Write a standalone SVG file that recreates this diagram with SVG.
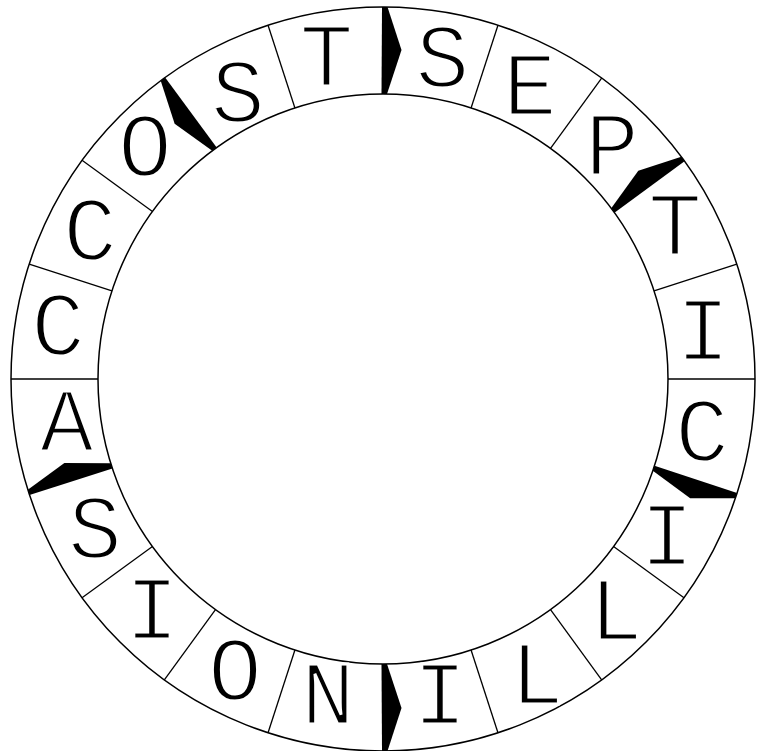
<svg xmlns="http://www.w3.org/2000/svg" width="765" height="751" viewBox="0 0 765 751">
<style>
.ring{fill:none;stroke:#000;stroke-width:1.5}
.div{stroke:#000;stroke-width:1.3}
.wedge{fill:#000;stroke:none}
.lt{font-family:"Liberation Mono","Courier New",monospace;font-size:90px;fill:#000;stroke:#fff;stroke-width:2.8px;text-anchor:middle}
</style>
<defs>
<line id="dv" x1="0" y1="-285" x2="0" y2="-372" class="div"/>
<polygon id="wg" class="wedge" points="-1,-372 4.5,-372 18.5,-329 4,-285 -1.5,-285"/>
</defs>
<rect width="765" height="751" fill="#fff"/>
<g id="rings">
<circle class="ring" cx="383" cy="379" r="372"/>
<circle class="ring" cx="383" cy="379" r="285"/>
</g>
<g id="connectors" transform="translate(383 379)">
<use href="#dv" transform="rotate(18)"/>
<use href="#dv" transform="rotate(36)"/>
<use href="#dv" transform="rotate(72)"/>
<use href="#dv" transform="rotate(90)"/>
<use href="#dv" transform="rotate(126)"/>
<use href="#dv" transform="rotate(144)"/>
<use href="#dv" transform="rotate(162)"/>
<use href="#dv" transform="rotate(198)"/>
<use href="#dv" transform="rotate(216)"/>
<use href="#dv" transform="rotate(234)"/>
<use href="#dv" transform="rotate(270)"/>
<use href="#dv" transform="rotate(288)"/>
<use href="#dv" transform="rotate(306)"/>
<use href="#dv" transform="rotate(342)"/>
<use href="#wg" transform="rotate(0)"/>
<use href="#wg" transform="rotate(-36) scale(-1 1)"/>
<use href="#wg" transform="rotate(54) scale(-1 1)"/>
<use href="#wg" transform="rotate(108)"/>
<use href="#wg" transform="rotate(180) scale(-1 1)"/>
<use href="#wg" transform="rotate(-108)"/>
</g>
<g id="letters" class="lt">
<g id="n01"><text x="442.5" y="87">S</text></g>
<g id="n02"><text x="530" y="114.5">E</text></g>
<g id="n03"><text x="612" y="174.5">P</text></g>
<g id="n04"><text x="675" y="254.5">T</text></g>
<g id="n05"><text x="703" y="359.5">I</text></g>
<g id="n06"><text x="702" y="460.5">C</text></g>
<g id="n07"><text x="667" y="564.5">I</text></g>
<g id="n08"><text x="616" y="639.5">L</text></g>
<g id="n09"><text x="537" y="703.5">L</text></g>
<g id="n10"><text x="440" y="723.5">I</text></g>
<g id="n11"><text x="328" y="723.5">N</text></g>
<g id="n12"><text x="235" y="699.5">O</text></g>
<g id="n13"><text x="152" y="638.5">I</text></g>
<g id="n14"><text x="95" y="557.5">S</text></g>
<g id="n15"><text x="66.7" y="451">A</text></g>
<g id="n16"><text x="58" y="354.5">C</text></g>
<g id="n17"><text x="90" y="259.5">C</text></g>
<g id="n18"><text x="145" y="175.5">O</text></g>
<g id="n19"><text x="238" y="121.5">S</text></g>
<g id="n20"><text x="326.5" y="86">T</text></g>
</g>
</svg>
